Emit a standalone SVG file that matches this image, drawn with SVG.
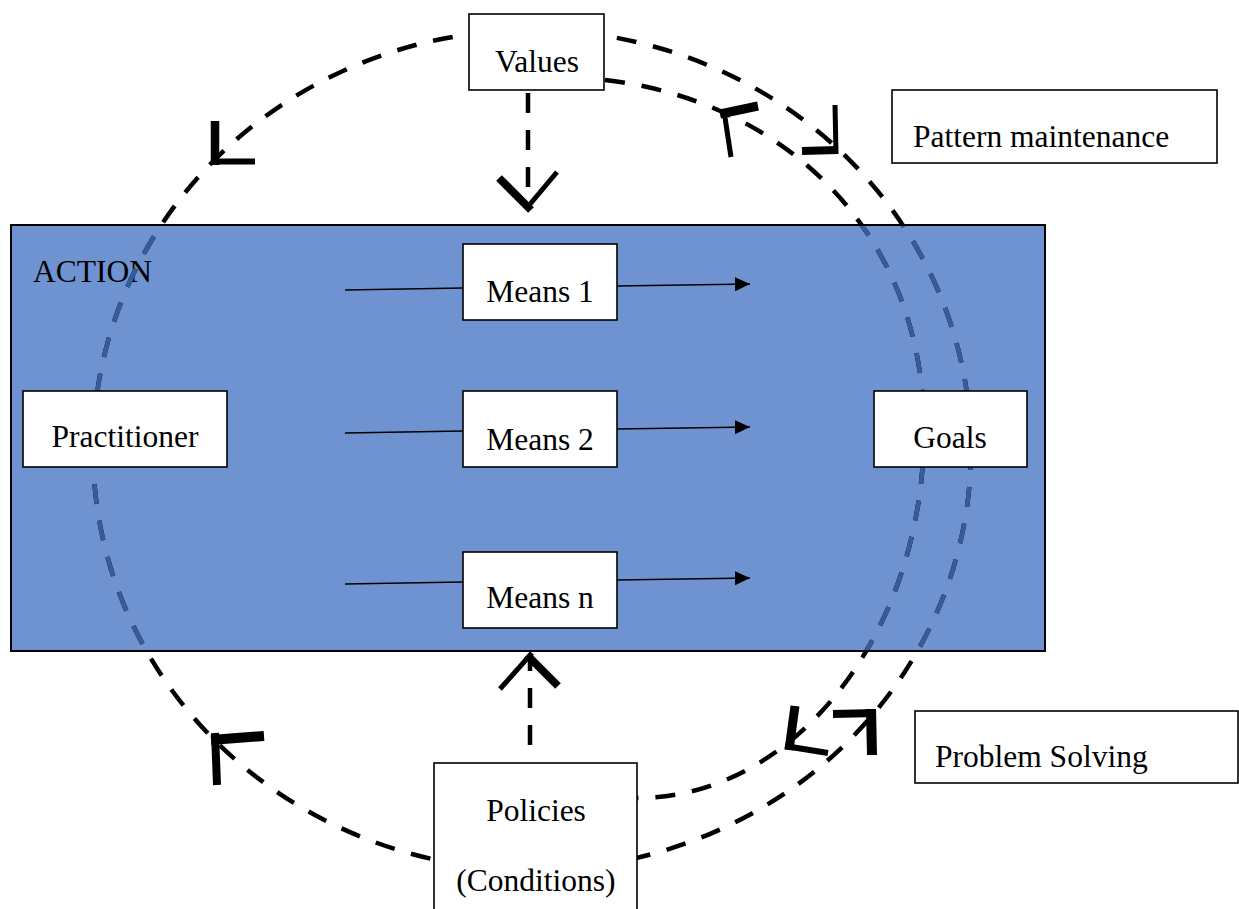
<svg xmlns="http://www.w3.org/2000/svg" xmlns:xlink="http://www.w3.org/1999/xlink" width="1239" height="909" viewBox="0 0 1239 909">
  <style>
    .box { fill: #ffffff; stroke: #000000; stroke-width: 1.6; }
    .label { font-family: "Liberation Serif", "Times New Roman", serif; font-size: 31.5px; fill: #000000; }
    .mid { text-anchor: middle; }
    .loop { fill: none; stroke-width: 4.5; stroke-dasharray: 20 17; }
    .flow { fill: none; stroke: #000000; stroke-width: 1.6; }
    .head line { stroke: #000000; stroke-linecap: butt; }
  </style>
  <defs>
    <marker id="tri" markerUnits="userSpaceOnUse" markerWidth="16" markerHeight="16" refX="15" refY="7" orient="auto">
      <path d="M0,0 L15,7 L0,14 z" fill="#000000"/>
    </marker>
    <clipPath id="actionClip">
      <rect x="12" y="226" width="1032" height="424"/>
    </clipPath>
  </defs>

  <!-- ACTION field -->
  <g id="action">
    <rect x="11" y="225" width="1034" height="426" fill="#6f93d1" stroke="#000000" stroke-width="2"/>
    <text class="label" x="33" y="282">ACTION</text>
  </g>

  <!-- connectors -->
  <g id="connectors">
    <g stroke="#000000">
      <g id="loops">
        <!-- outer cycle through Values and Policies -->
        <ellipse class="loop" cx="532" cy="450" rx="439" ry="420"/>
        <!-- inner return arc on the right -->
        <path class="loop" d="M605,80 C781,100 924,230 924,430 C924,633 795,798 637,798"/>
      </g>
    </g>
    <!-- the same loops seen through the ACTION field -->
    <use xlink:href="#loops" href="#loops" stroke="#385b9b" clip-path="url(#actionClip)"/>

    <!-- Values down to ACTION -->
    <line class="loop" stroke="#000000" x1="528" y1="93" x2="528" y2="205"/>
    <!-- Policies up to ACTION -->
    <line class="loop" stroke="#000000" stroke-dasharray="19 16" x1="530" y1="745" x2="530" y2="657"/>

    <!-- means flows -->
    <line class="flow" x1="345" y1="290" x2="463" y2="288"/>
    <line class="flow" x1="617" y1="286" x2="750" y2="284" marker-end="url(#tri)"/>
    <line class="flow" x1="345" y1="433" x2="463" y2="431"/>
    <line class="flow" x1="617" y1="429" x2="750" y2="427" marker-end="url(#tri)"/>
    <line class="flow" x1="345" y1="584" x2="463" y2="582"/>
    <line class="flow" x1="617" y1="580" x2="750" y2="578" marker-end="url(#tri)"/>

    <!-- open arrowheads -->
    <g class="head" id="head-values">
      <line x1="499" y1="178" x2="531" y2="210" stroke-width="8"/>
      <line x1="557" y1="172" x2="526" y2="209" stroke-width="5"/>
    </g>
    <g class="head" id="head-policies">
      <line x1="500" y1="689" x2="532" y2="653" stroke-width="5"/>
      <line x1="558" y1="686" x2="527" y2="655" stroke-width="8"/>
    </g>
    <g class="head" id="head-top-left">
      <line x1="215" y1="121" x2="215" y2="165" stroke-width="8.5"/>
      <line x1="211" y1="161.5" x2="255" y2="161.5" stroke-width="6"/>
    </g>
    <g class="head" id="head-bottom-left">
      <line x1="215" y1="733" x2="217" y2="785" stroke-width="8"/>
      <line x1="211" y1="740" x2="264" y2="736" stroke-width="10"/>
    </g>
    <g class="head" id="head-top-right-outer">
      <line x1="835" y1="105" x2="836" y2="154" stroke-width="5"/>
      <line x1="802" y1="151" x2="838" y2="150" stroke-width="8"/>
    </g>
    <g class="head" id="head-top-right-inner">
      <line x1="720" y1="114" x2="758" y2="106" stroke-width="9"/>
      <line x1="724" y1="111" x2="731" y2="157" stroke-width="5"/>
    </g>
    <g class="head" id="head-bottom-right-inner">
      <line x1="795" y1="706" x2="789" y2="750" stroke-width="9"/>
      <line x1="785" y1="746" x2="828" y2="753" stroke-width="6"/>
    </g>
    <g class="head" id="head-bottom-right-outer">
      <line x1="833" y1="714" x2="876" y2="713" stroke-width="8"/>
      <line x1="871" y1="709" x2="872" y2="755" stroke-width="10"/>
    </g>
  </g>

  <!-- nodes -->
  <g id="values">
    <rect class="box" x="469" y="14" width="135" height="76"/>
    <text class="label mid" x="537" y="72">Values</text>
  </g>
  <g id="practitioner">
    <rect class="box" x="23" y="391" width="204" height="76"/>
    <text class="label mid" x="125" y="447">Practitioner</text>
  </g>
  <g id="means-1">
    <rect class="box" x="463" y="244" width="154" height="76"/>
    <text class="label mid" x="540" y="302">Means 1</text>
  </g>
  <g id="means-2">
    <rect class="box" x="463" y="391" width="154" height="76"/>
    <text class="label mid" x="540" y="450">Means 2</text>
  </g>
  <g id="means-n">
    <rect class="box" x="463" y="552" width="154" height="76"/>
    <text class="label mid" x="540" y="608">Means n</text>
  </g>
  <g id="goals">
    <rect class="box" x="874" y="391" width="153" height="76"/>
    <text class="label mid" x="950" y="448">Goals</text>
  </g>
  <g id="policies">
    <rect class="box" x="434" y="763" width="203" height="160"/>
    <text class="label mid" x="536" y="821">Policies</text>
    <text class="label mid" x="536" y="891">(Conditions)</text>
  </g>
  <g id="pattern-maintenance">
    <rect class="box" x="892" y="90" width="325" height="73"/>
    <text class="label" x="913" y="147">Pattern maintenance</text>
  </g>
  <g id="problem-solving">
    <rect class="box" x="915" y="711" width="323" height="72"/>
    <text class="label" x="935" y="767">Problem Solving</text>
  </g>
</svg>
